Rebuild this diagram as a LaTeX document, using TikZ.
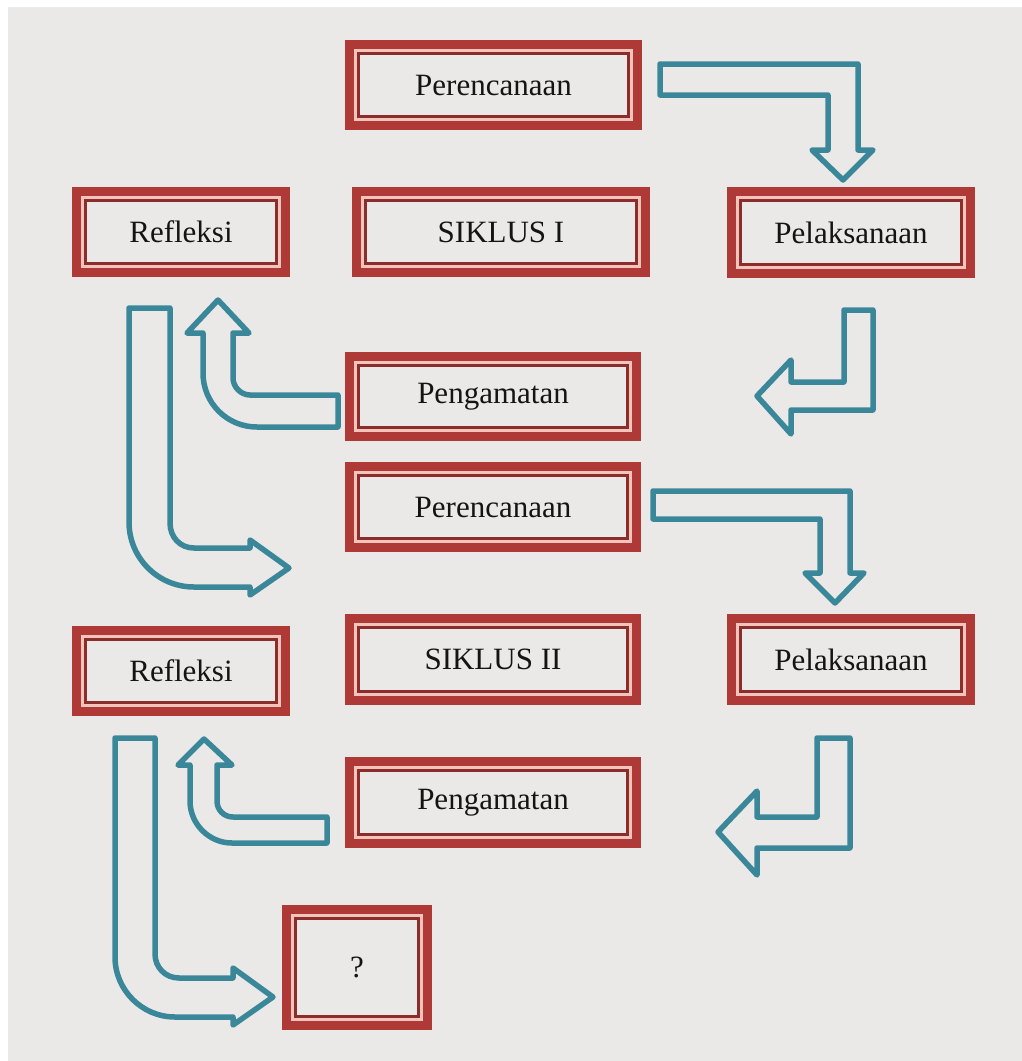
\documentclass[tikz,border=0pt]{standalone}
\usepackage{fontspec}
\setmainfont{Liberation Serif}
\definecolor{bgcol}{HTML}{EAE9E7}
\definecolor{boxred}{HTML}{AE3937}
\definecolor{boxdark}{HTML}{8A2D2B}
\definecolor{boxpink}{HTML}{F3C4BC}
\definecolor{arrteal}{HTML}{3B879A}
\definecolor{txtcol}{HTML}{141414}
\tikzset{
  dbox/.style={draw=boxred, line width=9pt, fill=bgcol, inner sep=0pt, outer sep=0pt,
    font=\fontsize{31}{36}\selectfont, text=txtcol},
  pinkline/.style={draw=boxpink, line width=3pt},
  darkline/.style={draw=boxdark, line width=2.5pt},
  blockarrow/.style={draw=arrteal, line width=5.5pt, fill=bgcol, line join=round}
}
% name, x1, y1, x2, y2, text
\newcommand{\dblbox}[6]{%
  \node[dbox, minimum width={(#4-#2-9)*1pt}, minimum height={(#5-#3-9)*1pt}]
    (#1) at ({(#2+#4)/2},{(#3+#5)/2}) {#6};
  \draw[pinkline] ([shift={(6pt,-6pt)}]#1.north west) rectangle ([shift={(-6pt,6pt)}]#1.south east);
  \draw[darkline] ([shift={(8.8pt,-8.8pt)}]#1.north west) rectangle ([shift={(-8.8pt,8.8pt)}]#1.south east);
}
\begin{document}
\begin{tikzpicture}[x=1pt,y=-1pt]
\useasboundingbox (0,0) rectangle (1022,1061);
\fill[white] (0,0) rectangle (1022,1061);
\fill[bgcol] (8,7) rectangle (1022,1061);

% boxes
\dblbox{per1}{345}{40}{642}{130}{Perencanaan}
\dblbox{sik1}{352}{187}{650}{277}{SIKLUS I}
\dblbox{ref1}{72}{187}{290}{277}{Refleksi}
\dblbox{pel1}{727}{187}{975}{278}{Pelaksanaan}
\dblbox{pen1}{345}{352}{641}{441}{Pengamatan}
\dblbox{per2}{345}{462}{641}{552}{Perencanaan}
\dblbox{sik2}{345}{614}{641}{705}{SIKLUS II}
\dblbox{ref2}{72}{626}{290}{716}{Refleksi}
\dblbox{pel2}{727}{614}{975}{705}{Pelaksanaan}
\dblbox{pen2}{345}{757}{641}{848}{Pengamatan}
\dblbox{qbox}{282}{905}{432}{1030}{?}

% block arrows
% Perencanaan I -> Pelaksanaan I
\draw[blockarrow] (660,64) -- (858,64) -- (858,150) -- (873,150) -- (843,180)
  -- (812,150) -- (828,150) -- (828,95) -- (660,95) -- cycle;
% Pelaksanaan I -> Pengamatan I
\draw[blockarrow] (873,310) -- (873,410) -- (791,410) -- (791,434) -- (757,396)
  -- (791,360) -- (791,382) -- (844,382) -- (844,310) -- cycle;
% Pengamatan I -> Refleksi I
\draw[blockarrow] (338,395) -- (338,427) -- (257,427)
  .. controls (227,427) and (203,403) .. (203,373) -- (203,333) -- (187,333)
  -- (218,300) -- (249,333) -- (233,333) -- (233,378)
  .. controls (233,387) and (241,395) .. (250,395) -- cycle;
% Refleksi I -> Perencanaan II
\draw[blockarrow] (129,308) -- (170,308) -- (170,523)
  .. controls (170,537) and (180,548) .. (194,548) -- (250,548) -- (250,540)
  -- (289,568) -- (250,595) -- (250,587) -- (194,587)
  .. controls (158,587) and (129,558) .. (129,522) -- cycle;
% Perencanaan II -> Pelaksanaan II
\draw[blockarrow] (653,491) -- (850,491) -- (850,573) -- (864,573) -- (835,603)
  -- (805,573) -- (820,573) -- (820,519) -- (653,519) -- cycle;
% Pelaksanaan II -> Pengamatan II
\draw[blockarrow] (850,738) -- (850,848) -- (757,848) -- (757,875) -- (718,832)
  -- (757,791) -- (757,817) -- (817,817) -- (817,738) -- cycle;
% Pengamatan II -> Refleksi II
\draw[blockarrow] (327,817) -- (327,843) -- (232,843)
  .. controls (209,843) and (190,824) .. (190,801) -- (190,765) -- (178,765)
  -- (204,739) -- (232,765) -- (217,765) -- (217,801)
  .. controls (217,810) and (224,817) .. (233,817) -- cycle;
% Refleksi II -> ?
\draw[blockarrow] (115,738) -- (155,738) -- (155,954)
  .. controls (155,967) and (165,978) .. (179,978) -- (233,978) -- (233,968)
  -- (273,997) -- (233,1025) -- (233,1017) -- (175,1017)
  .. controls (142,1017) and (115,990) .. (115,957) -- cycle;
\end{tikzpicture}
\end{document}
